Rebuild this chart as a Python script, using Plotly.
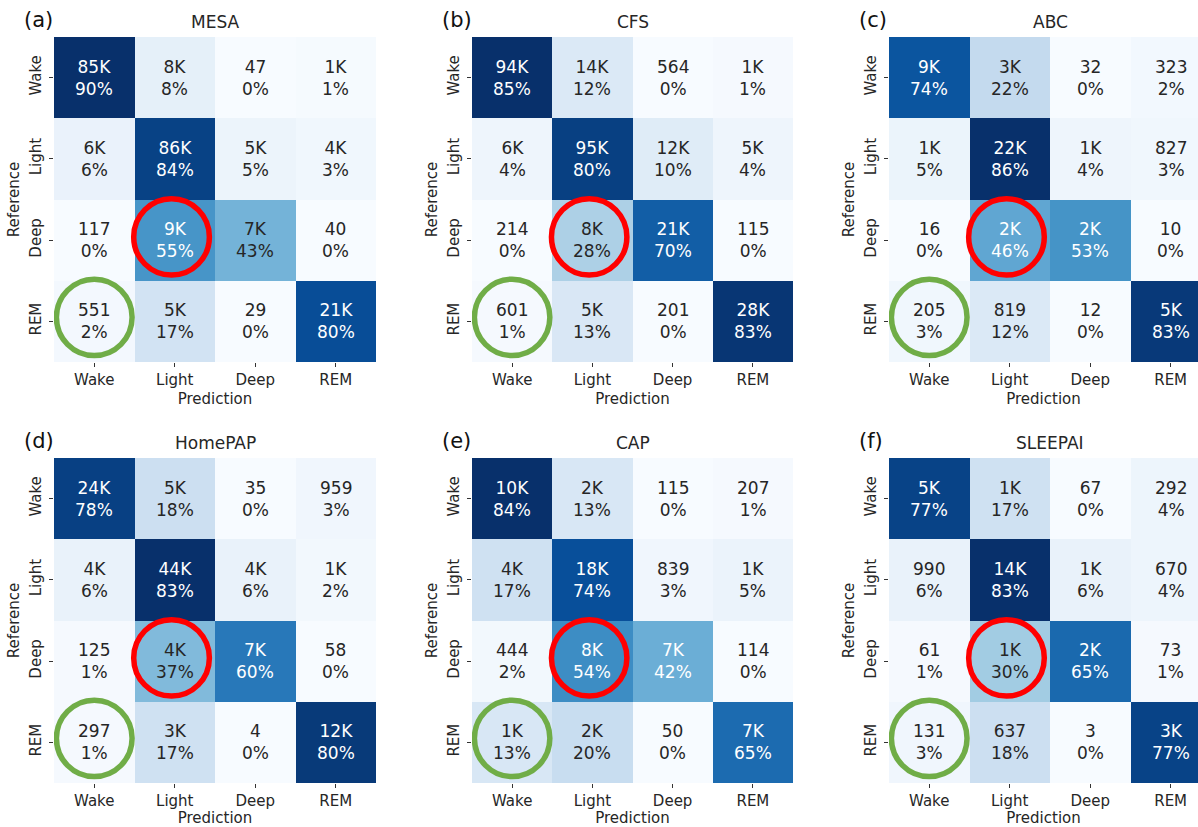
import plotly.graph_objects as go
from plotly.colors import sample_colorscale
import plotly.express as px

stages = ["Wake", "Light", "Deep", "REM"]
panel_tags = ["(a)", "(b)", "(c)", "(d)", "(e)", "(f)"]
datasets = ["MESA", "CFS", "ABC", "HomePAP", "CAP", "SLEEPAI"]

# Epoch counts (rows: reference stage, cols: predicted stage)
mesa_counts = [[85000, 8000, 47, 1000], [6000, 86000, 5000, 4000], [117, 9000, 7000, 40], [551, 5000, 29, 21000]]
mesa_pct = [[90, 8, 0, 1], [6, 84, 5, 3], [0, 55, 43, 0], [2, 17, 0, 80]]

cfs_counts = [[94000, 14000, 564, 1000], [6000, 95000, 12000, 5000], [214, 8000, 21000, 115], [601, 5000, 201, 28000]]
cfs_pct = [[85, 12, 0, 1], [4, 80, 10, 4], [0, 28, 70, 0], [1, 13, 0, 83]]

abc_counts = [[9000, 3000, 32, 323], [1000, 22000, 1000, 827], [16, 2000, 2000, 10], [205, 819, 12, 5000]]
abc_pct = [[74, 22, 0, 2], [5, 86, 4, 3], [0, 46, 53, 0], [3, 12, 0, 83]]

homepap_counts = [[24000, 5000, 35, 959], [4000, 44000, 4000, 1000], [125, 4000, 7000, 58], [297, 3000, 4, 12000]]
homepap_pct = [[78, 18, 0, 3], [6, 83, 6, 2], [1, 37, 60, 0], [1, 17, 0, 80]]

cap_counts = [[10000, 2000, 115, 207], [4000, 18000, 839, 1000], [444, 8000, 7000, 114], [1000, 2000, 50, 7000]]
cap_pct = [[84, 13, 0, 1], [17, 74, 3, 5], [2, 54, 42, 0], [13, 20, 0, 65]]

sleepai_counts = [[5000, 1000, 67, 292], [990, 14000, 1000, 670], [61, 1000, 2000, 73], [131, 637, 3, 3000]]
sleepai_pct = [[77, 17, 0, 4], [6, 83, 6, 4], [1, 30, 65, 1], [3, 18, 0, 77]]

all_counts = [mesa_counts, cfs_counts, abc_counts, homepap_counts, cap_counts, sleepai_counts]
all_pct = [mesa_pct, cfs_pct, abc_pct, homepap_pct, cap_pct, sleepai_pct]

W, H = 1198, 827
BLUES = px.colors.sequential.Blues
DARK = "#262626"
FONT = "DejaVu Sans"

# pixel extents of each heat map
col_px = [(54, 376), (472, 793), (889, 1198)]
row_px = [(37, 362), (458, 783)]
x_ranges = [[-0.5, 3.5], [-0.5, 3.5], [-0.5, 3.34]]


def fmt_count(n):
    return f"{round(n / 1000)}K" if n >= 1000 else str(n)


def luminance(rgb_str):
    vals = rgb_str[rgb_str.index("(") + 1:rgb_str.index(")")].split(",")
    chans = []
    for v in vals[:3]:
        c = float(v) / 255.0
        chans.append(c / 12.92 if c <= 0.03928 else ((c + 0.055) / 1.055) ** 2.4)
    return 0.2126 * chans[0] + 0.7152 * chans[1] + 0.0722 * chans[2]


fig = go.Figure()
annotations = []
shapes = []

for k in range(6):
    r, c = divmod(k, 3)
    idx = "" if k == 0 else str(k + 1)
    xa, ya = "x" + idx, "y" + idx
    pct = all_pct[k]
    cnt = all_counts[k]
    zmin = min(min(row) for row in pct)
    zmax = max(max(row) for row in pct)

    fig.add_trace(go.Heatmap(
        z=pct, x=list(range(4)), y=list(range(4)),
        colorscale=BLUES, zmin=zmin, zmax=zmax, showscale=False,
        xaxis=xa, yaxis=ya, hoverinfo="skip",
    ))

    for i in range(4):
        for j in range(4):
            t = (pct[i][j] - zmin) / (zmax - zmin)
            col = sample_colorscale(BLUES, [t])[0]
            txt_col = "white" if luminance(col) < 0.408 else DARK
            annotations.append(dict(
                x=j, y=i, xref=xa, yref=ya,
                text=f"{fmt_count(cnt[i][j])}<br>{pct[i][j]}%",
                showarrow=False, font=dict(family=FONT, size=17, color=txt_col),
            ))

    x0p, x1p = col_px[c]
    y0p, y1p = row_px[r]
    layout_x = "xaxis" + idx
    layout_y = "yaxis" + idx
    fig.layout[layout_x] = dict(
        domain=[x0p / W, x1p / W], range=x_ranges[c], anchor=ya,
        tickvals=list(range(4)), ticktext=stages, ticks="outside", ticklen=4,
        tickcolor="#333", tickwidth=1, showgrid=False, zeroline=False,
        showline=False, tickfont=dict(family=FONT, size=15, color=DARK),
        title=dict(text="Prediction", font=dict(family=FONT, size=15, color=DARK), standoff=5),
        fixedrange=True,
    )
    fig.layout[layout_y] = dict(
        domain=[1 - y1p / H, 1 - y0p / H], range=[3.5, -0.5], anchor=xa,
        tickvals=list(range(4)), ticktext=stages, ticks="outside", ticklen=4,
        tickcolor="#333", tickwidth=1, showgrid=False, zeroline=False,
        showline=False, tickangle=-90, ticklabelstandoff=2,
        tickfont=dict(family=FONT, size=15, color=DARK),
        title=dict(text="Reference", font=dict(family=FONT, size=15, color=DARK), standoff=3),
        fixedrange=True,
    )

    # dataset title and panel tag
    xc = (x0p + (x0p + 322)) / 2
    annotations.append(dict(
        x=xc / W, y=1 - (y0p - 15) / H, xref="paper", yref="paper",
        text=datasets[k], showarrow=False, xanchor="center", yanchor="middle",
        font=dict(family=FONT, size=17, color=DARK),
    ))
    annotations.append(dict(
        x=(x0p - 32) / W, y=1 - (y0p - 17) / H, xref="paper", yref="paper",
        text=panel_tags[k], showarrow=False, xanchor="left", yanchor="middle",
        font=dict(family=FONT, size=21, color="#111"),
    ))

    # highlight Deep→Light (red) and REM→Wake (green)
    rad = 0.47
    for (cx, cy, colr) in [(1 - 0.04, 2 - 0.04, "#ff0000"), (0, 3 - 0.05, "#70ad47")]:
        shapes.append(dict(
            type="circle", xref=xa, yref=ya,
            x0=cx - rad, x1=cx + rad, y0=cy - rad, y1=cy + rad,
            line=dict(color=colr, width=5.5), fillcolor="rgba(0,0,0,0)",
        ))

fig.update_layout(
    width=W, height=H, margin=dict(l=0, r=0, t=0, b=0),
    paper_bgcolor="white", plot_bgcolor="white",
    annotations=annotations, shapes=shapes, showlegend=False,
)

fig.write_html("out.html")
